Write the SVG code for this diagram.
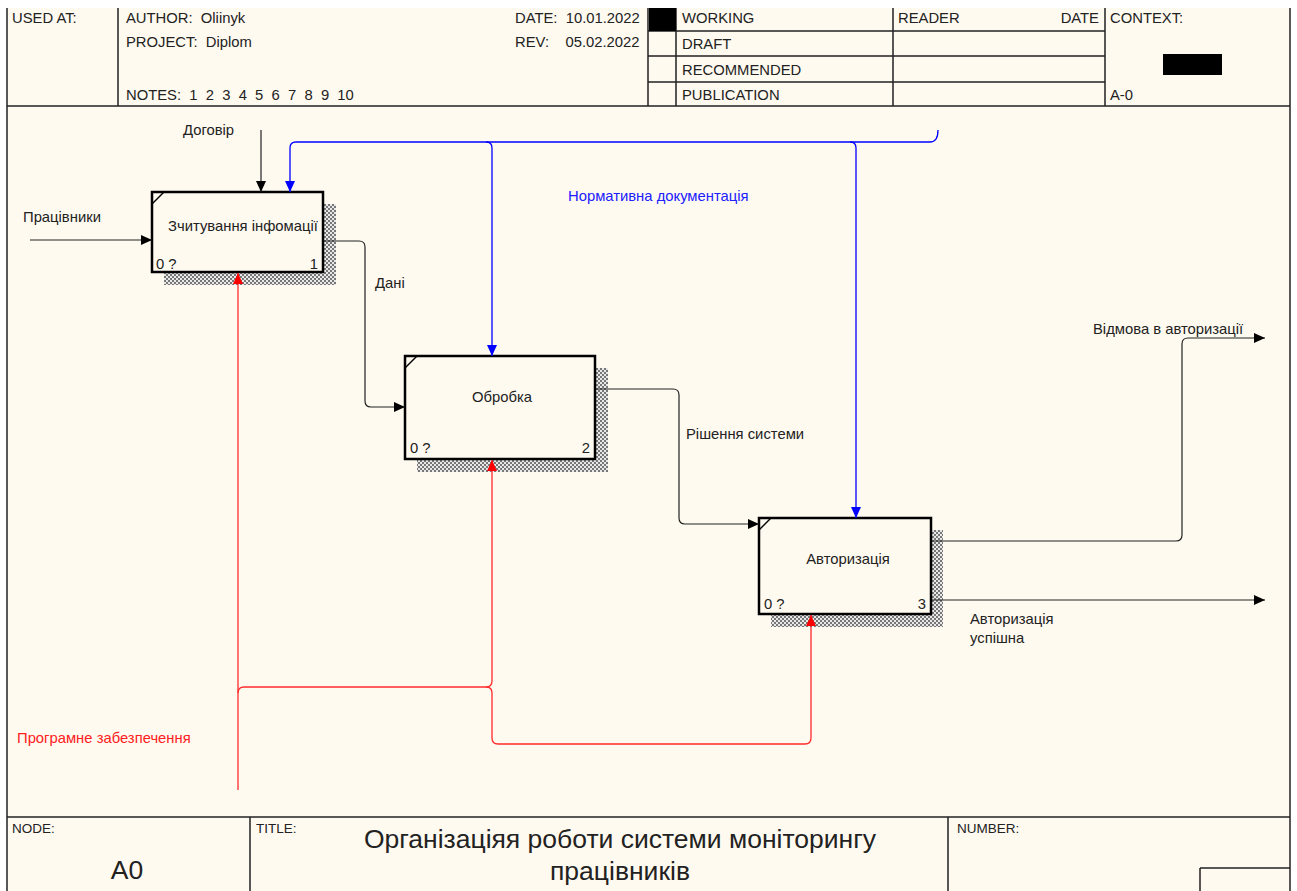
<svg xmlns="http://www.w3.org/2000/svg" width="1297" height="891" viewBox="0 0 1297 891">
<style>
  .t{font-family:"Liberation Sans",Arial,sans-serif;fill:#222}
  .h{font-size:14.8px}
  .lbl{font-size:14.8px}
  .frame{fill:none;stroke:#222;stroke-width:1.5}
  .box{fill:#fffaf0;stroke:#000;stroke-width:2.5}
  .blk{fill:none;stroke:#222;stroke-width:1.2}
  .blu{fill:none;stroke:#0000ff;stroke-width:1.3}
  .red{fill:none;stroke:#ff2a2a;stroke-width:1.3}
</style>
<defs>
  <pattern id="hatch" width="4" height="4" patternUnits="userSpaceOnUse">
    <rect width="4" height="4" fill="#e8e8e8"/>
    <rect width="2" height="2" fill="#777"/>
    <rect x="2" y="2" width="2" height="2" fill="#777"/>
  </pattern>
  <marker id="ak" markerWidth="12" markerHeight="10" refX="11" refY="5" orient="auto" markerUnits="userSpaceOnUse"><path d="M0,0 L11,5 L0,10 Z" fill="#000"/></marker>
  <marker id="ab" markerWidth="12" markerHeight="10" refX="11" refY="5" orient="auto" markerUnits="userSpaceOnUse"><path d="M0,0 L11,5 L0,10 Z" fill="#0000ff"/></marker>
  <marker id="ar" markerWidth="12" markerHeight="10" refX="11" refY="5" orient="auto" markerUnits="userSpaceOnUse"><path d="M0,0 L11,5 L0,10 Z" fill="#ff0000"/></marker>
</defs>
<rect width="1297" height="891" fill="#ffffff"/>
<rect x="7" y="8" width="1283" height="883" fill="#fffaf0"/>

<g id="header">
  <path class="frame" d="M7,8 V891 M1290,8 V891 M7,106 H1290 M118,8 V106 M648,8 V106 M676,8 V106 M893,8 V106 M1105,8 V106 M648,31 H1105 M648,56 H1105 M648,82 H1105"/>
  <rect x="649" y="8" width="27" height="23" fill="#000"/>
  <rect x="1163" y="54" width="59" height="21" fill="#000"/>
  <text class="t h" x="12" y="23">USED AT:</text>
  <text class="t h" x="126" y="23" xml:space="preserve">AUTHOR:  Oliinyk</text>
  <text class="t h" x="126" y="47" xml:space="preserve">PROJECT:  Diplom</text>
  <text class="t h" x="126" y="100" xml:space="preserve">NOTES:  1  2  3  4  5  6  7  8  9  10</text>
  <text class="t h" x="515" y="23" xml:space="preserve">DATE:  10.01.2022</text>
  <text class="t h" x="515" y="47" xml:space="preserve">REV:    05.02.2022</text>
  <text class="t h" x="682" y="23">WORKING</text>
  <text class="t h" x="682" y="49">DRAFT</text>
  <text class="t h" x="682" y="75">RECOMMENDED</text>
  <text class="t h" x="682" y="100">PUBLICATION</text>
  <text class="t h" x="898" y="23">READER</text>
  <text class="t h" x="1099" y="23" text-anchor="end">DATE</text>
  <text class="t h" x="1110" y="23">CONTEXT:</text>
  <text class="t h" x="1110" y="100">A-0</text>
</g>

<g id="footer">
  <path class="frame" d="M7,817 H1290 M250,817 V891 M948,817 V891 M1200,868 H1290 M1200,868 V891"/>
  <text class="t" x="12" y="833" font-size="13.5">NODE:</text>
  <text class="t" x="256" y="833" font-size="13.5">TITLE:</text>
  <text class="t" x="957" y="833" font-size="13.5">NUMBER:</text>
  <text class="t" x="127" y="879" font-size="26.5" text-anchor="middle">A0</text>
  <text class="t" x="620" y="848" font-size="26.5" text-anchor="middle">Організаціяя роботи системи моніторингу</text>
  <text class="t" x="620" y="880" font-size="26.5" text-anchor="middle">працівників</text>
</g>

<g id="box1">
  <rect x="164" y="204" width="172" height="81" fill="url(#hatch)"/>
  <rect class="box" x="152" y="192" width="171" height="80"/>
  <path d="M152,204 L164,192" stroke="#000" stroke-width="1.5"/>
  <text class="t" x="243" y="231" font-size="14.8" text-anchor="middle">Зчитування інфомації</text>
  <text class="t" x="156" y="269" font-size="14.8">0 ?</text>
  <text class="t" x="318" y="269" font-size="14.8" text-anchor="end">1</text>
</g>

<g id="box2">
  <rect x="417" y="368" width="191" height="104" fill="url(#hatch)"/>
  <rect class="box" x="405" y="356" width="190" height="103"/>
  <path d="M405,368 L417,356" stroke="#000" stroke-width="1.5"/>
  <text class="t" x="502" y="402" font-size="14.8" text-anchor="middle">Обробка</text>
  <text class="t" x="410" y="453" font-size="14.8">0 ?</text>
  <text class="t" x="590" y="453" font-size="14.8" text-anchor="end">2</text>
</g>

<g id="box3">
  <rect x="771" y="530" width="172" height="97" fill="url(#hatch)"/>
  <rect class="box" x="759" y="518" width="172" height="96"/>
  <path d="M759,530 L771,518" stroke="#000" stroke-width="1.5"/>
  <text class="t" x="848" y="564" font-size="14.8" text-anchor="middle">Авторизація</text>
  <text class="t" x="764" y="609" font-size="14.8">0 ?</text>
  <text class="t" x="926" y="609" font-size="14.8" text-anchor="end">3</text>
</g>

<g id="connectors">
  <path class="blk" d="M30,240 H152" marker-end="url(#ak)"/>
  <path class="blk" d="M261,130 V192" marker-end="url(#ak)"/>
  <path class="blk" d="M324,241 H359 Q365,241 365,247 V401 Q365,407 371,407 H405" marker-end="url(#ak)"/>
  <path class="blk" d="M596,389 H673 Q679,389 679,395 V518 Q679,524 685,524 H759" marker-end="url(#ak)"/>
  <path class="blk" d="M932,541 H1176 Q1182,541 1182,535 V344 Q1182,338 1188,338 H1265" marker-end="url(#ak)"/>
  <path class="blk" d="M932,600 H1265" marker-end="url(#ak)"/>
  <path class="blu" d="M938,130 Q938,142 930,142 H296 Q290,142 290,148 V192" marker-end="url(#ab)"/>
  <path class="blu" d="M486,142 Q492,142 492,148 V356" marker-end="url(#ab)"/>
  <path class="blu" d="M850,142 Q856,142 856,148 V518" marker-end="url(#ab)"/>
  <path class="red" d="M238,790 V273" marker-end="url(#ar)"/>
  <path class="red" d="M238,693 Q238,687 244,687 H486 Q492,687 492,681 V460" marker-end="url(#ar)"/>
  <path class="red" d="M486,687 Q492,687 492,693 V738 Q492,744 498,744 H805 Q811,744 811,738 V615" marker-end="url(#ar)"/>
  <text class="t lbl" x="23" y="222">Працівники</text>
  <text class="t lbl" x="183" y="135">Договір</text>
  <text class="t lbl" x="568" y="201" style="fill:#2020ff">Нормативна документація</text>
  <text class="t lbl" x="375" y="288">Дані</text>
  <text class="t lbl" x="686" y="439">Рішення системи</text>
  <text class="t lbl" x="1093" y="334">Відмова в авторизації</text>
  <text class="t lbl" x="970" y="624">Авторизація</text>
  <text class="t lbl" x="970" y="643">успішна</text>
  <text class="t lbl" x="17" y="743" style="fill:#ff2020">Програмне забезпечення</text>
</g>
</svg>
